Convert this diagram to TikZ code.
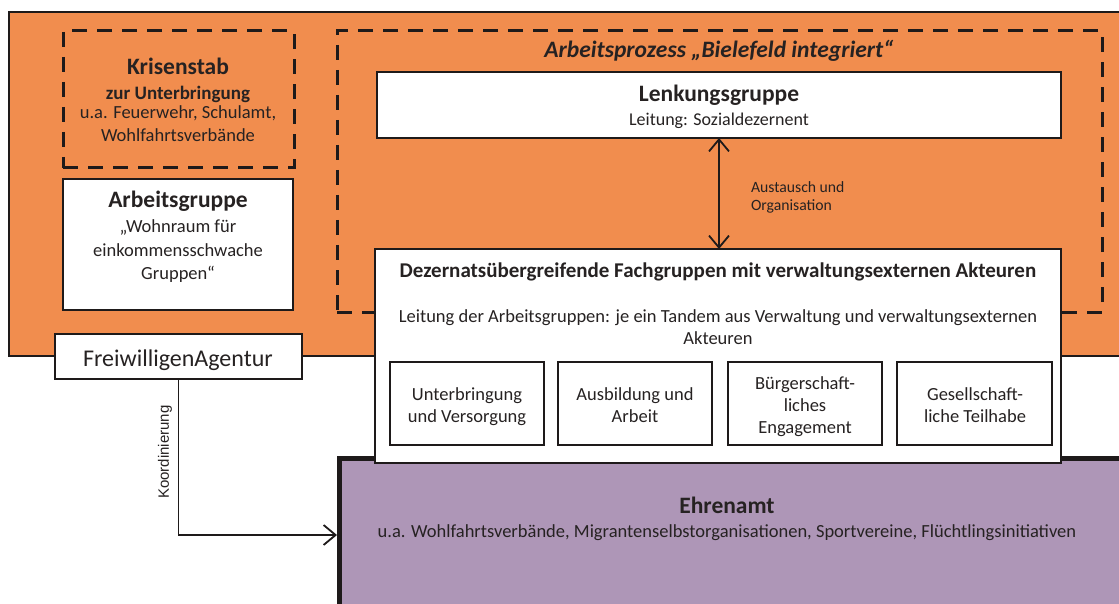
\documentclass[tikz,border=0pt]{standalone}
\usepackage{fontspec}
\setmainfont{Carlito}
\newfontfamily\labelfont{Liberation Sans}
\usetikzlibrary{arrows.meta}

\definecolor{orangefill}{RGB}{241,141,78}
\definecolor{lilacfill}{RGB}{174,150,183}
\definecolor{ink}{RGB}{30,26,26}
\definecolor{textink}{RGB}{38,34,34}

\newcommand\titlesize{\fontsize{23.5}{26}\selectfont\bfseries}
\newcommand\bodysize{\fontsize{18.5}{22}\selectfont}
\newcommand\smallsize{\fontsize{15.7}{17}\selectfont}

\tikzset{
  panel/.style={draw=ink, line width=2pt, fill=white, inner sep=0pt, outer sep=0pt, anchor=north west},
  dashpanel/.style={draw=ink, line width=3pt, dash pattern=on 15pt off 10pt, inner sep=0pt, outer sep=0pt, anchor=north west},
  txt/.style={anchor=base, inner sep=0pt, outer sep=0pt, text=textink},
  barb/.style={line width=1.8pt, draw=ink, arrows={-Straight Barb[length=12pt, width=20pt]}},
}

\begin{document}
\begin{tikzpicture}[x=1pt, y=-1pt]
\clip (0,0) rectangle (1119,604);
\fill[white] (0,0) rectangle (1119,604);

% orange frame of the municipal administration
\node[draw=ink, line width=2pt, fill=orangefill, inner sep=0pt, anchor=north west,
      minimum width=1130pt, minimum height=344pt] (frame) at (8,11) {};

% crisis unit (dashed)
\node[dashpanel, minimum width=231pt, minimum height=137pt] (krisen) at (63,31) {};
\node[txt] (krisen-t1) at (178,75) {\titlesize Krisenstab};
\node[txt] (krisen-t2) at (178,100) {\fontsize{19}{21}\selectfont\bfseries zur Unterbringung};
\node[txt] (krisen-t3) at (178,119) {\bodysize u.a. Feuerwehr, Schulamt,};
\node[txt] (krisen-t4) at (178,142) {\bodysize Wohlfahrtsverbände};

% working group on housing
\node[panel, minimum width=230pt, minimum height=131pt] (ag) at (63,179) {};
\node[txt] (ag-t1) at (178,208) {\titlesize Arbeitsgruppe};
\node[txt] (ag-t2) at (178,233) {\bodysize „Wohnraum für};
\node[txt] (ag-t3) at (178,256) {\bodysize einkommensschwache};
\node[txt] (ag-t4) at (178,279) {\bodysize Gruppen“};

% work process (dashed)
\node[dashpanel, minimum width=765pt, minimum height=281pt] (prozess) at (337,31) {};
\node[txt] (prozess-t) at (719,58) {\titlesize\itshape Arbeitsprozess „Bielefeld integriert“};

% steering group
\node[panel, minimum width=684pt, minimum height=66pt] (lenk) at (377,72) {};
\node[txt] (lenk-t1) at (719,102) {\titlesize Lenkungsgruppe};
\node[txt] (lenk-t2) at (719,126) {\fontsize{18}{20}\selectfont Leitung: Sozialdezernent};

% volunteers
\node[draw=ink, line width=5pt, fill=lilacfill, inner sep=0pt, anchor=north west,
      minimum width=800pt, minimum height=153pt] (ehren) at (337,456) {};
\node[txt] (ehren-t1) at (727,513) {\titlesize Ehrenamt};
\node[txt] (ehren-t2) at (727,537) {\bodysize u.a. Wohlfahrtsverbände, Migrantenselbstorganisationen, Sportvereine, Flüchtlingsinitiativen};

% cross-departmental specialist groups
\node[panel, minimum width=686pt, minimum height=214pt] (dez) at (375,249) {};
\node[txt] (dez-t1) at (718,277) {\fontsize{21}{24}\selectfont\bfseries Dezernatsübergreifende Fachgruppen mit verwaltungsexternen Akteuren};
\node[txt] (dez-t2) at (718,322) {\bodysize Leitung der Arbeitsgruppen: je ein Tandem aus Verwaltung und verwaltungsexternen};
\node[txt] (dez-t3) at (718,344) {\bodysize Akteuren};

\node[panel, minimum width=154pt, minimum height=83pt] (fg1) at (390,362) {};
\node[txt] (fg1-t1) at (467,400) {\bodysize Unterbringung};
\node[txt] (fg1-t2) at (467,422) {\bodysize und Versorgung};

\node[panel, minimum width=154pt, minimum height=83pt] (fg2) at (558,362) {};
\node[txt] (fg2-t1) at (635,400) {\bodysize Ausbildung und};
\node[txt] (fg2-t2) at (635,422) {\bodysize Arbeit};

\node[panel, minimum width=154pt, minimum height=83pt] (fg3) at (728,362) {};
\node[txt] (fg3-t1) at (805,389) {\bodysize Bürgerschaft-};
\node[txt] (fg3-t2) at (805,411) {\bodysize liches};
\node[txt] (fg3-t3) at (805,433) {\bodysize Engagement};

\node[panel, minimum width=155pt, minimum height=83pt] (fg4) at (897,362) {};
\node[txt] (fg4-t1) at (975,400) {\bodysize Gesellschaft-};
\node[txt] (fg4-t2) at (975,422) {\bodysize liche Teilhabe};

% volunteer agency
\node[panel, minimum width=247pt, minimum height=45pt] (freiw) at (55,334) {};
\node[txt] (freiw-t) at (178,366) {\fontsize{24}{27}\selectfont FreiwilligenAgentur};

% exchange between steering group and specialist groups
\draw[barb, arrows={Straight Barb[length=12pt, width=20pt]-Straight Barb[length=12pt, width=20pt]}]
  (lenk.south) -- (lenk.south |- dez.north);
\node[txt, anchor=base west] (austausch-1) at (751,193) {\smallsize Austausch und};
\node[txt, anchor=base west] (austausch-2) at (751,211) {\smallsize Organisation};

% coordination of volunteers
\draw[barb] (freiw.south) |- (ehren.west);
\node[txt, anchor=center, rotate=90] (koord) at (165,452) {\labelfont\fontsize{15}{17}\selectfont Koordinierung};

\end{tikzpicture}
\end{document}
